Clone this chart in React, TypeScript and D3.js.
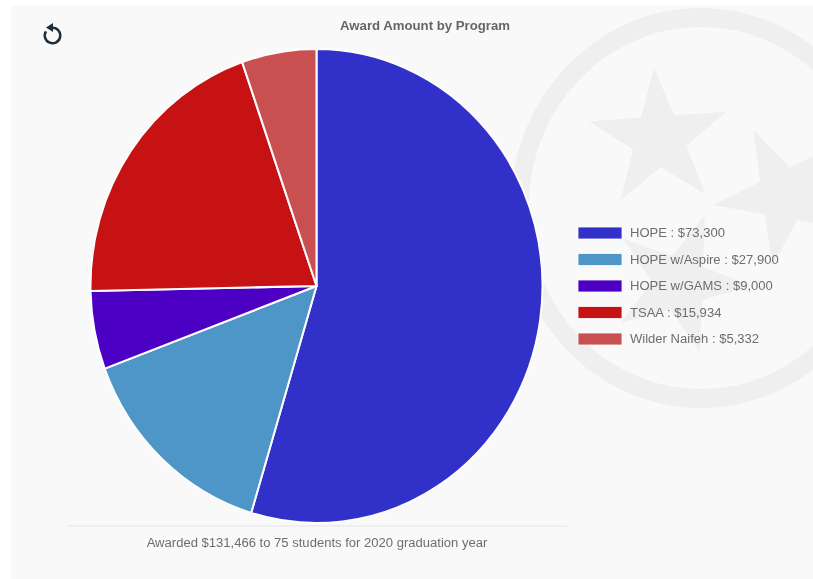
import React, { useEffect, useRef } from 'react';
import * as d3 from 'd3';

// slice sizes follow student counts (75 total), the legend shows dollars
const programs = ['HOPE', 'HOPE w/Aspire', 'HOPE w/GAMS', 'TSAA', 'Wilder Naifeh'];
const students = [41, 11, 4, 15, 4];
const amounts = [73300, 27900, 9000, 15934, 5332];
const colors = ['#3131c9', '#4e95c8', '#4b00c4', '#c61212', '#c85050'];
const title = 'Award Amount by Program';
const footer = 'Awarded $131,466 to 75 students for 2020 graduation year';

const WIDTH = 813;
const HEIGHT = 579;

const App = () => {
  const ref = useRef<SVGSVGElement>(null);

  useEffect(() => {
    const svg = d3.select(ref.current);
    svg.selectAll('*').remove();

    const font = '"Liberation Sans", Arial, sans-serif';

    svg.append('rect').attr('width', WIDTH).attr('height', HEIGHT).attr('fill', '#fff');
    svg.append('rect').attr('x', 11).attr('y', 6).attr('width', WIDTH - 11).attr('height', HEIGHT - 6).attr('fill', '#f9f9f9');

    // state flag watermark behind everything
    svg.append('path')
      .attr('transform', 'translate(701,208) scale(1,1.05)')
      .attr('fill', '#efefef')
      .attr('d', d3.arc()({ innerRadius: 172.5, outerRadius: 190.5, startAngle: 0, endAngle: Math.PI * 2 }) as string);

    const starPath = d3.lineRadial<number>()
      .angle((d, i) => (i * Math.PI) / 5)
      .radius((d) => d)
      .curve(d3.curveLinearClosed);
    const starRadii = d3.range(10).map((i) => (i % 2 === 0 ? 72 : 28));
    const stars = [
      { x: 659, y: 139, rot: -4 },
      { x: 785, y: 195, rot: -26 },
      { x: 680, y: 283, rot: 20 },
    ];
    stars.forEach((s) => {
      svg.append('path')
        .attr('d', starPath(starRadii) as string)
        .attr('fill', '#efefef')
        .attr('transform', `translate(${s.x},${s.y}) rotate(${s.rot})`);
    });

    // pie, the source picture is a bit taller than wide
    const pie = d3.pie<number>().value((d) => d).sort(null);
    const arc = d3.arc<d3.PieArcDatum<number>>().innerRadius(0).outerRadius(226);
    const pieG = svg.append('g').attr('transform', 'translate(316.5,286) scale(1,1.049)');
    pieG.selectAll('path')
      .data(pie(students))
      .enter().append('path')
      .attr('d', arc)
      .attr('fill', (d, i) => colors[i])
      .attr('stroke', '#fdfdfd')
      .attr('stroke-width', 2);

    svg.append('text')
      .attr('x', 425).attr('y', 30)
      .attr('text-anchor', 'middle')
      .style('font-family', font).style('font-size', '13.2px').style('font-weight', 'bold')
      .attr('fill', '#666')
      .text(title);

    // legend
    const money = d3.format('$,');
    const legendY = d3.scalePoint<string>().domain(programs).range([233, 339]);
    const row = svg.selectAll('.row').data(programs).enter().append('g').attr('class', 'row');
    row.append('rect')
      .attr('x', 578).attr('y', (d) => (legendY(d) as number) - 6)
      .attr('width', 44).attr('height', 12)
      .attr('fill', (d, i) => colors[i])
      .attr('stroke', '#fff').attr('stroke-width', 0.8);
    row.append('text')
      .attr('x', 630).attr('y', (d) => (legendY(d) as number) + 4)
      .style('font-family', font).style('font-size', '13.05px')
      .attr('fill', '#6e6e6e')
      .text((d, i) => `${d} : ${money(amounts[i])}`);

    svg.append('line')
      .attr('x1', 67).attr('x2', 567).attr('y1', 526).attr('y2', 526)
      .attr('stroke', '#e6e6e6').attr('stroke-width', 1.2);
    svg.append('text')
      .attr('x', 317).attr('y', 547)
      .attr('text-anchor', 'middle')
      .style('font-family', font).style('font-size', '13.05px')
      .attr('fill', '#6e6e6e')
      .text(footer);

    // reset icon
    const icon = svg.append('g').attr('transform', 'translate(52.5,35.5)');
    icon.append('path')
      .attr('fill', '#1f2d3a')
      .attr('d', d3.arc()({ innerRadius: 6.5, outerRadius: 9, startAngle: 0, endAngle: Math.PI * 1.68 }) as string);
    icon.append('path')
      .attr('fill', '#1f2d3a')
      .attr('d', d3.line()([[0.5, -12.5], [0.5, -3.5], [-6.5, -8]]) + 'Z');
  }, []);

  return (
    <svg
      ref={ref}
      width={WIDTH}
      height={HEIGHT}
      style={{ position: 'absolute', left: 0, top: 0, filter: 'blur(0.5px)' }}
    />
  );
};

export default App;
